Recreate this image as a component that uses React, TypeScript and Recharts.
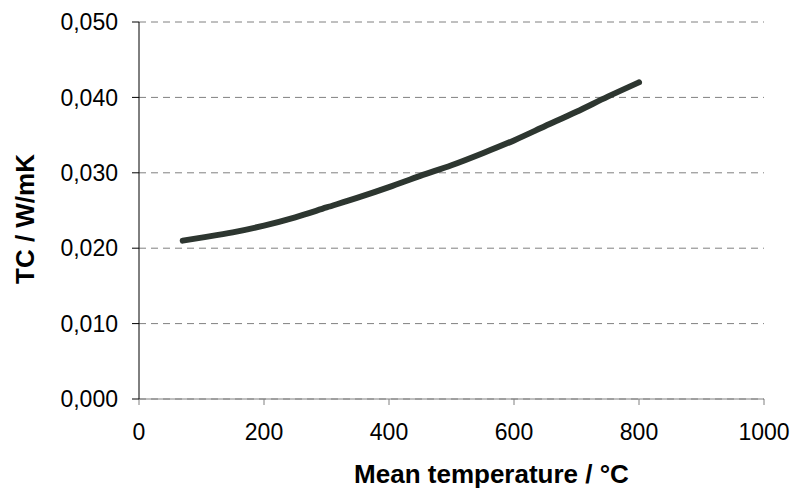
import { LineChart, Line, XAxis, YAxis, CartesianGrid } from "recharts";

const temperatures = [70, 100, 150, 200, 250, 300, 350, 400, 450, 500, 550, 600, 650, 700, 750, 800];
const conductivity = [
  0.021, 0.0214, 0.0221, 0.023, 0.0241, 0.0254, 0.0267, 0.0281, 0.0296, 0.031, 0.0326, 0.0343, 0.0362,
  0.0381, 0.0401, 0.042,
];
const xTicks = [0, 200, 400, 600, 800, 1000];
const yTicks = [0, 0.01, 0.02, 0.03, 0.04, 0.05];

const data = temperatures.map((t, i) => ({ t, tc: conductivity[i] }));

const font = "'Liberation Sans', Arial, sans-serif";

// y title drawn by hand so it can sit a bit below the plot centre like the original
const YTitle = () => (
  <text
    x={25}
    y={219}
    transform="rotate(-90 25 219)"
    textAnchor="middle"
    dominantBaseline="central"
    fill="#000"
    fontSize={26}
    fontWeight="bold"
    fontFamily={font}
  >
    TC / W/mK
  </text>
);

export default function App() {
  return (
    <div style={{ position: "absolute", left: 0, top: 0 }}>
      <LineChart width={792} height={490} data={data} margin={{ top: 22, right: 28, bottom: 0, left: 0 }}>
        <CartesianGrid vertical={false} stroke="#808080" strokeDasharray="7 5" />
        <XAxis
          dataKey="t"
          type="number"
          domain={[0, 1000]}
          ticks={xTicks}
          height={91}
          stroke="#808080"
          tickSize={6}
          tickMargin={19}
          tick={{ fill: "#000", fontSize: 23, fontFamily: font }}
          label={{
            value: "Mean temperature / °C",
            position: "insideBottom",
            offset: 7,
            dx: 40,
            style: { fill: "#000", fontSize: 26, fontWeight: "bold", fontFamily: font },
          }}
        />
        <YAxis
          type="number"
          domain={[0, 0.05]}
          ticks={yTicks}
          width={139}
          stroke="#000"
          tickSize={7}
          tickMargin={14}
          tickFormatter={(v: number) => v.toFixed(3).replace(".", ",")}
          tick={{ fill: "#000", fontSize: 23, fontFamily: font }}
          label={{ content: YTitle }}
        />
        <Line
          dataKey="tc"
          type="monotone"
          stroke="#2d3630"
          strokeWidth={6}
          strokeLinecap="round"
          dot={false}
          isAnimationActive={false}
        />
      </LineChart>
    </div>
  );
}
